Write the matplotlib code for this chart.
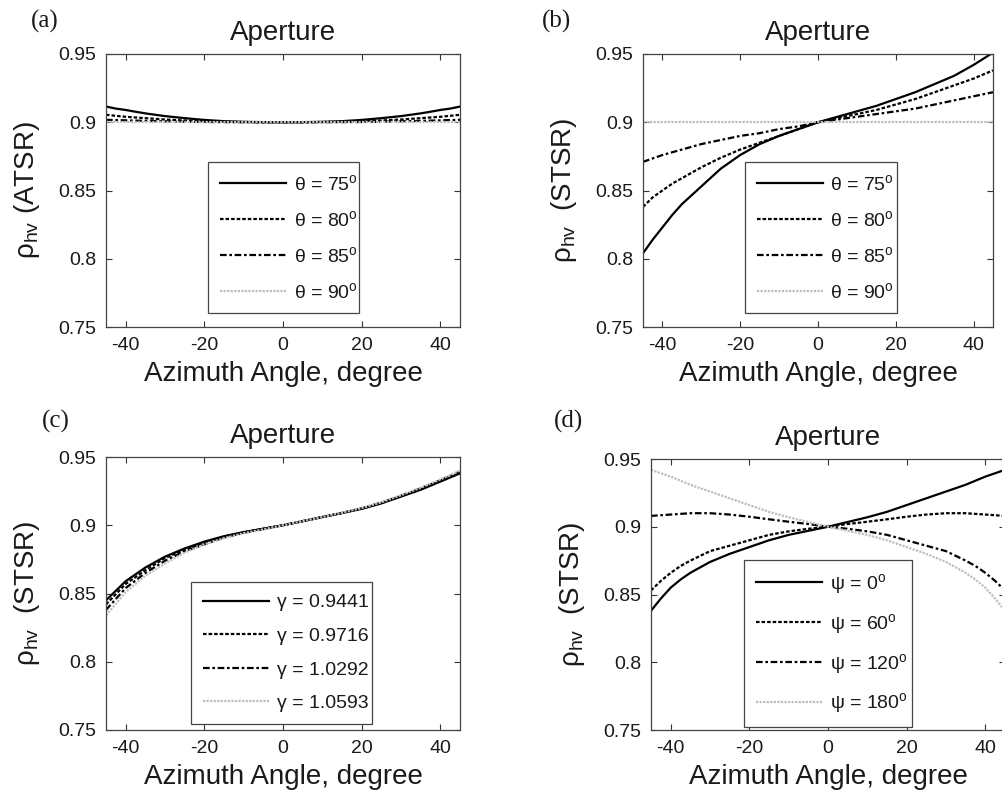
import matplotlib
matplotlib.use("Agg")
import matplotlib.pyplot as plt

plt.rcParams['font.family'] = ['Liberation Sans', 'DejaVu Sans']
plt.rcParams['mathtext.fontset'] = 'custom'
plt.rcParams['mathtext.rm'] = 'Liberation Sans'
plt.rcParams['mathtext.it'] = 'Liberation Sans:italic'
plt.rcParams['mathtext.sf'] = 'Liberation Sans'
plt.rcParams['axes.unicode_minus'] = False

# ---------------- data ----------------
azimuth = [-45, -42.5, -40, -37.5, -35, -30, -25, -20, -15, -10, -5, 0,
           5, 10, 15, 20, 25, 30, 35, 37.5, 40, 42.5, 45]

# (a) ATSR, incidence angle theta
a_theta75 = [0.9115, 0.910, 0.909, 0.9077, 0.9065, 0.9045, 0.903, 0.9017, 0.9008, 0.9003, 0.9001, 0.900,
             0.9001, 0.9003, 0.9008, 0.9017, 0.903, 0.9045, 0.9065, 0.9077, 0.909, 0.910, 0.9115]
a_theta80 = [0.9055, 0.9047, 0.904, 0.9035, 0.903, 0.902, 0.9013, 0.9008, 0.9004, 0.9002, 0.9000, 0.900,
             0.9000, 0.9002, 0.9004, 0.9008, 0.9013, 0.902, 0.903, 0.9035, 0.904, 0.9047, 0.9055]
a_theta85 = [0.9018, 0.9016, 0.9014, 0.9012, 0.901, 0.9007, 0.9004, 0.9002, 0.9001, 0.9000, 0.9000, 0.900,
             0.9000, 0.9000, 0.9001, 0.9002, 0.9004, 0.9007, 0.901, 0.9012, 0.9014, 0.9016, 0.9018]
a_theta90 = [0.900] * 23

# (b) STSR, incidence angle theta
b_theta75 = [0.804, 0.814, 0.823, 0.832, 0.840, 0.853, 0.866, 0.876, 0.884, 0.890, 0.895, 0.900,
             0.904, 0.908, 0.912, 0.917, 0.922, 0.928, 0.934, 0.938, 0.942, 0.9465, 0.951]
b_theta80 = [0.838, 0.845, 0.850, 0.855, 0.859, 0.867, 0.874, 0.880, 0.885, 0.890, 0.895, 0.900,
             0.903, 0.906, 0.909, 0.913, 0.917, 0.922, 0.927, 0.9295, 0.932, 0.935, 0.938]
b_theta85 = [0.871, 0.8735, 0.876, 0.878, 0.880, 0.884, 0.887, 0.890, 0.892, 0.895, 0.897, 0.900,
             0.902, 0.904, 0.906, 0.908, 0.910, 0.913, 0.916, 0.9175, 0.919, 0.9205, 0.922]
b_theta90 = [0.900] * 23

# (c) STSR, axis ratio gamma
c_g09441 = [0.845, 0.852, 0.859, 0.864, 0.869, 0.877, 0.883, 0.888, 0.892, 0.895, 0.8975, 0.900,
            0.903, 0.906, 0.909, 0.912, 0.916, 0.921, 0.926, 0.929, 0.932, 0.935, 0.938]
c_g09716 = [0.842, 0.8495, 0.857, 0.862, 0.867, 0.876, 0.882, 0.887, 0.8915, 0.8948, 0.8974, 0.900,
            0.903, 0.906, 0.909, 0.9122, 0.9163, 0.9213, 0.9265, 0.9295, 0.9325, 0.9355, 0.9387]
c_g10292 = [0.838, 0.846, 0.854, 0.8595, 0.865, 0.874, 0.881, 0.886, 0.891, 0.8945, 0.8972, 0.900,
            0.903, 0.906, 0.909, 0.9124, 0.9166, 0.9216, 0.927, 0.930, 0.933, 0.936, 0.9393]
c_g10593 = [0.834, 0.8425, 0.851, 0.857, 0.863, 0.872, 0.880, 0.886, 0.8905, 0.8942, 0.897, 0.900,
            0.903, 0.906, 0.9092, 0.9126, 0.9168, 0.922, 0.9275, 0.9305, 0.9335, 0.9367, 0.940]

# (d) STSR, canting angle psi
d_psi0 = [0.838, 0.847, 0.855, 0.861, 0.866, 0.874, 0.880, 0.885, 0.890, 0.894, 0.897, 0.900,
          0.9035, 0.907, 0.911, 0.916, 0.921, 0.926, 0.931, 0.934, 0.937, 0.9395, 0.942]
d_psi60 = [0.853, 0.860, 0.866, 0.871, 0.875, 0.882, 0.886, 0.890, 0.894, 0.8966, 0.8985, 0.900,
           0.902, 0.9037, 0.9055, 0.9074, 0.909, 0.910, 0.910, 0.9095, 0.909, 0.9085, 0.908]
d_psi120 = [0.908, 0.9085, 0.909, 0.9095, 0.910, 0.910, 0.909, 0.9074, 0.9055, 0.9037, 0.902, 0.900,
            0.8985, 0.8966, 0.894, 0.890, 0.886, 0.882, 0.875, 0.871, 0.866, 0.860, 0.853]
d_psi180 = [0.942, 0.9395, 0.937, 0.934, 0.931, 0.926, 0.921, 0.916, 0.911, 0.907, 0.9035, 0.900,
            0.897, 0.894, 0.890, 0.885, 0.880, 0.874, 0.866, 0.861, 0.855, 0.847, 0.838]

theta_labels = ['θ = 75$^{\\mathrm{o}}$', 'θ = 80$^{\\mathrm{o}}$',
                'θ = 85$^{\\mathrm{o}}$', 'θ = 90$^{\\mathrm{o}}$']
gamma_labels = ['γ = 0.9441', 'γ = 0.9716', 'γ = 1.0292', 'γ = 1.0593']
psi_labels = ['ψ = 0$^{\\mathrm{o}}$', 'ψ = 60$^{\\mathrm{o}}$',
              'ψ = 120$^{\\mathrm{o}}$', 'ψ = 180$^{\\mathrm{o}}$']

xticks = [-40, -20, 0, 20, 40]
yticks = [0.75, 0.80, 0.85, 0.90, 0.95]
ytick_labels = ['0.75', '0.8', '0.85', '0.9', '0.95']

# ---------------- styles ----------------
styles = [
    dict(color='black', lw=1.6, ls='-'),
    dict(color='black', lw=1.6, ls=(0, (1.6, 0.9))),
    dict(color='black', lw=1.6, ls=(0, (3.0, 1.2, 1.2, 1.2))),
    dict(color='#bdbdbd', lw=1.6, ls=(0, (1.0, 0.6))),
]

TXT = '#1a1a1a'
fig = plt.figure(figsize=(10.02, 7.97), dpi=100)
W, H = 1002.0, 797.0


def make_ax(l, r, t, b):
    return fig.add_axes([l / W, 1 - b / H, (r - l) / W, (b - t) / H])


panels = [
    (make_ax(106, 460, 54, 327), [a_theta75, a_theta80, a_theta85, a_theta90], theta_labels,
     'ρ$_{\\mathrm{hv}}$ (ATSR)', (0.288, 0.055, 0.427, 0.545), '(a)', (31, 10)),
    (make_ax(643, 993, 54, 327), [b_theta75, b_theta80, b_theta85, b_theta90], theta_labels,
     'ρ$_{\\mathrm{hv}}$  (STSR)', (0.291, 0.055, 0.435, 0.545), '(b)', (542, 10)),
    (make_ax(106, 460, 457, 730), [c_g09441, c_g09716, c_g10292, c_g10593], gamma_labels,
     'ρ$_{\\mathrm{hv}}$  (STSR)', (0.240, 0.059, 0.510, 0.446), '(c)', (42, 410)),
    (make_ax(651, 1005, 459, 730), [d_psi0, d_psi60, d_psi120, d_psi180], psi_labels,
     'ρ$_{\\mathrm{hv}}$  (STSR)', (0.263, 0.048, 0.474, 0.542), '(d)', (554, 410)),
]

for ax, series, labels, ylab, lbox, tag, tagpos in panels:
    for ys, lab, st in zip(series, labels, styles):
        ax.plot(azimuth, ys, label=lab, **st)
    ax.set_xlim(-45, 45)
    ax.set_ylim(0.75, 0.95)
    ax.set_xticks(xticks)
    ax.set_yticks(yticks)
    ax.set_yticklabels(ytick_labels)
    ax.tick_params(direction='in', length=4, width=0.8, top=True, right=True,
                   labelsize=14, colors='#333333', labelcolor=TXT, pad=7)
    for sp in ax.spines.values():
        sp.set_color('#444444')
        sp.set_linewidth(0.9)
    ax.set_title('Aperture', fontsize=20, color=TXT, pad=10)
    ax.set_xlabel('Azimuth Angle, degree', fontsize=20, color=TXT, labelpad=5)
    ax.set_ylabel(ylab, fontsize=20, color=TXT, labelpad=12)
    leg = ax.legend(loc='center', bbox_to_anchor=lbox, mode='expand', fontsize=14,
                    handlelength=3.4, handletextpad=0.4, labelspacing=0.82,
                    borderpad=0.6, borderaxespad=0, fancybox=False, framealpha=1,
                    edgecolor='#444444')
    leg.get_frame().set_linewidth(0.9)
    for t in leg.get_texts():
        t.set_color(TXT)
    fig.text(tagpos[0] / W, 1 - tagpos[1] / H, tag, fontsize=18,
             family='Liberation Serif', va='top', ha='left', color=TXT)

fig.savefig('out.png', dpi=100)
